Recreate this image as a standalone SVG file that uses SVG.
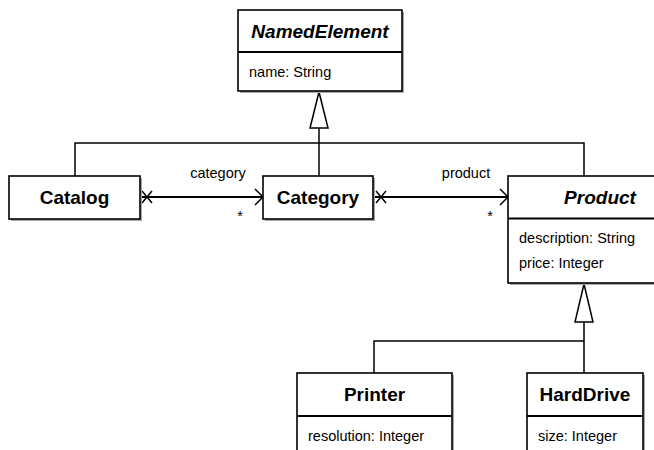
<svg xmlns="http://www.w3.org/2000/svg" width="654" height="450" viewBox="0 0 654 450">
  <style>
    .box { fill: #ffffff; stroke: #000000; stroke-width: 1.6; }
    .shadow { fill: #a8a8a8; stroke: none; }
    .sep { stroke: #000000; stroke-width: 2; }
    .title { font-family: "Liberation Sans", Arial, sans-serif; font-size: 19px; font-weight: bold; text-anchor: middle; fill: #000; }
    .abs { font-style: italic; }
    .attr { font-family: "Liberation Sans", Arial, sans-serif; font-size: 14.5px; fill: #000; }
    .lbl { font-family: "Liberation Sans", Arial, sans-serif; font-size: 14.5px; fill: #000; text-anchor: middle; }
    .gen { fill: none; stroke: #000; stroke-width: 1.5; }
    .assoc { fill: none; stroke: #000; stroke-width: 2; }
    .tri { fill: #ffffff; stroke: #000; stroke-width: 1.5; }
  </style>
  <rect width="654" height="450" fill="#ffffff"/>

  <g id="connectors">
    <!-- generalization to NamedElement -->
    <polyline class="gen" points="75,176 75,143 584,143 584,176"/>
    <line class="gen" x1="319" y1="176" x2="319" y2="128" stroke-width="2"/>
    <polygon class="tri" points="319,92 310,128 328,128"/>
    <!-- generalization to Product -->
    <polyline class="gen" points="374,373 374,341 584,341"/>
    <line class="gen" x1="584" y1="373" x2="584" y2="322"/>
    <polygon class="tri" points="584,284 575,322 593,322"/>
    <!-- Catalog -> Category -->
    <line class="assoc" x1="140" y1="197" x2="262" y2="197"/>
    <path class="gen" d="M142,191 L152,203 M142,203 L152,191"/>
    <path class="gen" d="M255,189 L263,197 L255,205"/>
    <text class="lbl" x="218" y="178">category</text>
    <text class="lbl" x="240" y="221">*</text>
    <!-- Category -> Product -->
    <line class="assoc" x1="373" y1="197" x2="507" y2="197"/>
    <path class="gen" d="M376,191 L386,203 M376,203 L386,191"/>
    <path class="gen" d="M500,189 L508,197 L500,205"/>
    <text class="lbl" x="466" y="178">product</text>
    <text class="lbl" x="490" y="221">*</text>
  </g>

  <g id="NamedElement">
    <rect class="shadow" x="240" y="12" width="164" height="81"/>
    <rect class="box" x="238" y="10" width="164" height="81"/>
    <line class="sep" x1="238" y1="52" x2="402" y2="52"/>
    <text class="title abs" x="320" y="38">NamedElement</text>
    <text class="attr" x="249" y="77">name: String</text>
  </g>

  <g id="Catalog">
    <rect class="shadow" x="11" y="178" width="131" height="43"/>
    <rect class="box" x="9" y="176" width="131" height="43"/>
    <text class="title" x="74.5" y="204">Catalog</text>
  </g>

  <g id="Category">
    <rect class="shadow" x="265" y="178" width="110" height="43"/>
    <rect class="box" x="263" y="176" width="110" height="43"/>
    <text class="title" x="318" y="204">Category</text>
  </g>

  <g id="Product">
    <rect class="shadow" x="510" y="178" width="200" height="107"/>
    <rect class="box" x="508" y="176" width="200" height="107"/>
    <line class="sep" x1="508" y1="218.5" x2="708" y2="218.5"/>
    <text class="title abs" x="600" y="204">Product</text>
    <text class="attr" x="519" y="243">description: String</text>
    <text class="attr" x="519" y="267.5">price: Integer</text>
  </g>

  <g id="Printer">
    <rect class="shadow" x="299" y="375" width="155" height="100"/>
    <rect class="box" x="297" y="373" width="155" height="100"/>
    <line class="sep" x1="297" y1="416" x2="452" y2="416"/>
    <text class="title" x="374.5" y="401">Printer</text>
    <text class="attr" x="308" y="441">resolution: Integer</text>
  </g>

  <g id="HardDrive">
    <rect class="shadow" x="529" y="375" width="116" height="100"/>
    <rect class="box" x="527" y="373" width="116" height="100"/>
    <line class="sep" x1="527" y1="416" x2="643" y2="416"/>
    <text class="title" x="585" y="401">HardDrive</text>
    <text class="attr" x="538" y="441">size: Integer</text>
  </g>
</svg>
